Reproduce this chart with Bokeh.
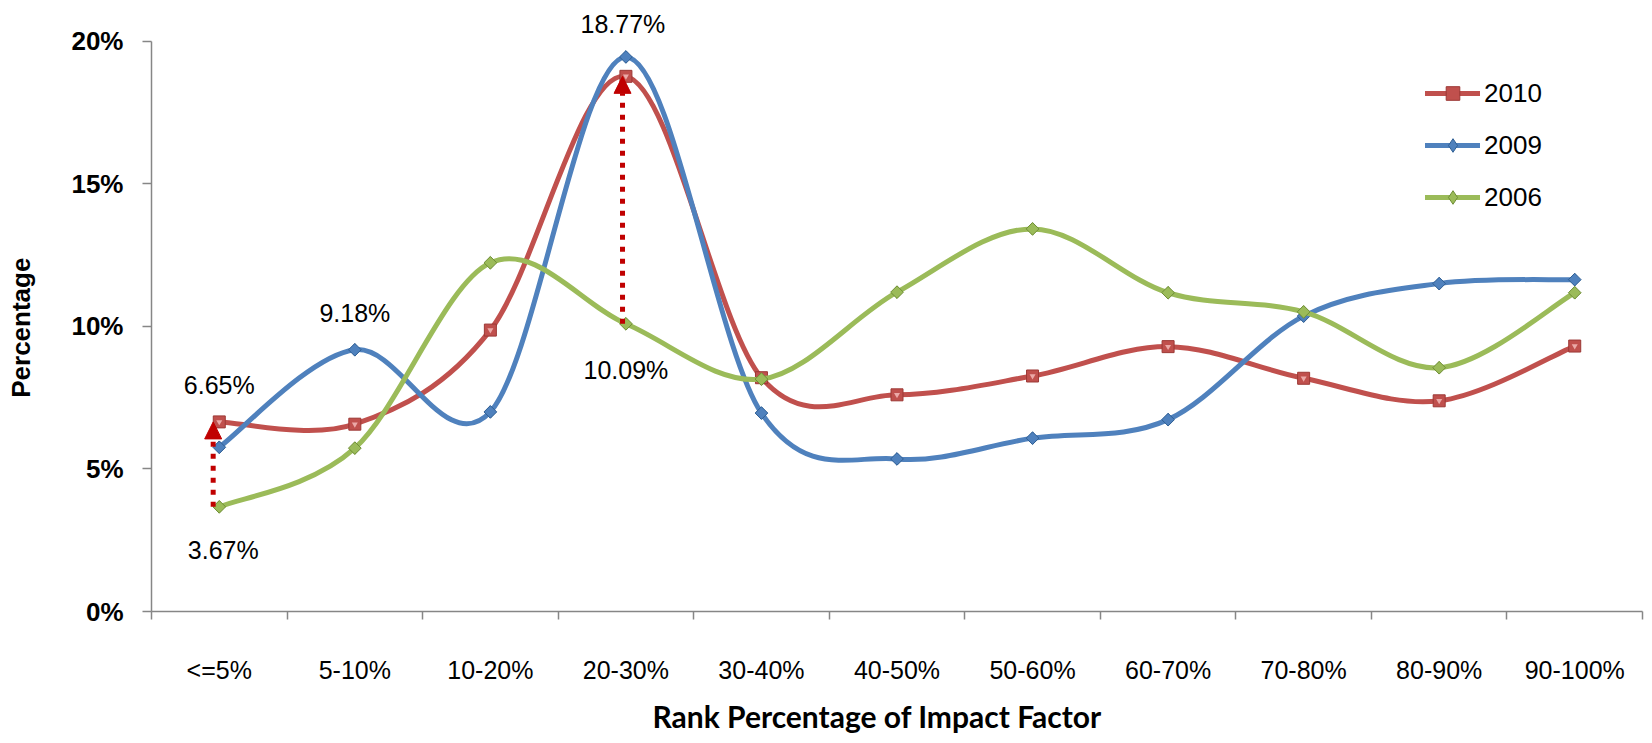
from math import pi

from bokeh.plotting import figure
from bokeh.models import (Range1d, FixedTicker, Label, Arrow, NormalHead,
                          Legend, LegendItem, Title)
from bokeh.embed import file_html
from bokeh.resources import INLINE

# Share of papers (%) per impact-factor rank band
categories = ["<=5%", "5-10%", "10-20%", "20-30%", "30-40%", "40-50%",
              "50-60%", "60-70%", "70-80%", "80-90%", "90-100%"]
share_2010 = [6.65, 6.57, 9.87, 18.77, 8.20, 7.60, 8.26, 9.29, 8.18, 7.39, 9.31]
share_2009 = [5.76, 9.18, 7.00, 19.45, 6.96, 5.35, 6.08, 6.73, 10.36, 11.50, 11.64]
share_2006 = [3.67, 5.73, 12.23, 10.09, 8.15, 11.20, 13.42, 11.18, 10.51, 8.55, 11.18]
y_ticks = [0, 5, 10, 15, 20]

RED, BLUE, GREEN = "#C0504D", "#4F81BD", "#9BBB59"
ARROW_RED = "#C00000"
AXIS_GREY = "#868686"

xs = [i + 0.5 for i in range(len(categories))]

# The frame reaches the top edge so labels above the 20% line stay visible;
# the y axis itself is bounded to 0-20%.
p = figure(width=1652, height=743, output_backend="svg", toolbar_location=None,
           x_range=Range1d(0, len(categories)), y_range=Range1d(0, 21.43),
           min_border_left=151, min_border_right=10, min_border_top=0,
           min_border_bottom=130)
p.outline_line_color = None
p.xgrid.visible = False
p.ygrid.visible = False
p.background_fill_color = "white"
p.border_fill_color = "white"

# x axis: labels centred on each band, tick marks on the band boundaries
xa = p.xaxis[0]
xa.ticker = FixedTicker(ticks=xs, minor_ticks=list(range(len(categories) + 1)))
xa.major_label_overrides = {x: c for x, c in zip(xs, categories)}
xa.major_tick_line_color = None
xa.major_tick_out = 0
xa.major_tick_in = 0
xa.minor_tick_out = 8
xa.minor_tick_in = 0
xa.minor_tick_line_color = AXIS_GREY
xa.minor_tick_line_width = 1.5
xa.axis_line_color = AXIS_GREY
xa.axis_line_width = 1.5
xa.major_label_standoff = 36
xa.major_label_text_font = "Liberation Sans"
xa.major_label_text_font_size = "25px"
xa.major_label_text_color = "black"

ya = p.yaxis[0]
ya.bounds = (0, 20)
ya.ticker = FixedTicker(ticks=y_ticks)
ya.major_label_overrides = {t: f"{t}%" for t in y_ticks}
ya.minor_tick_line_color = None
ya.major_tick_out = 9
ya.major_tick_in = 0
ya.major_tick_line_color = AXIS_GREY
ya.major_tick_line_width = 1.5
ya.axis_line_color = AXIS_GREY
ya.axis_line_width = 1.5
ya.major_label_standoff = 19
ya.major_label_text_font = "Liberation Sans"
ya.major_label_text_font_style = "bold"
ya.major_label_text_font_size = "26px"
ya.major_label_text_color = "black"
# trailing no-break spaces centre the title on the 0-20% span of the axis
ya.axis_label = "Percentage" + "\u00a0" * 6
ya.axis_label_text_font = "Liberation Sans"
ya.axis_label_text_font_style = "bold"
ya.axis_label_text_font_size = "26px"
ya.axis_label_text_color = "black"
ya.axis_label_standoff = 32

# x axis title
p.add_layout(Title(text="Rank Percentage of Impact Factor", align="left",
                   offset=501, standoff=19, text_font="Lato",
                   text_font_style="bold", text_font_size="30px",
                   text_color="black"), "below")


def smooth_segments(x, y):
    """Cubic Bezier pieces (Catmull-Rom tangents) through every data point."""
    n = len(x)
    seg = dict(x0=[], y0=[], x1=[], y1=[], cx0=[], cy0=[], cx1=[], cy1=[])
    for i in range(n - 1):
        a = max(i - 1, 0)
        b = min(i + 2, n - 1)
        seg["x0"].append(x[i]); seg["y0"].append(y[i])
        seg["x1"].append(x[i + 1]); seg["y1"].append(y[i + 1])
        seg["cx0"].append(x[i] + (x[i + 1] - x[a]) / 6)
        seg["cy0"].append(y[i] + (y[i + 1] - y[a]) / 6)
        seg["cx1"].append(x[i + 1] - (x[b] - x[i]) / 6)
        seg["cy1"].append(y[i + 1] - (y[b] - y[i]) / 6)
    return seg


series = [
    ("2010", share_2010, RED, "#9C3835"),
    ("2009", share_2009, BLUE, "#2F5F94"),
    ("2006", share_2006, GREEN, "#6F8E36"),
]

legend_items = []
for name, vals, color, edge in series:
    curve = p.bezier(line_color=color, line_width=5, line_cap="round",
                     **smooth_segments(xs, vals))
    if name == "2010":
        pts = p.scatter(xs, vals, marker="square", size=12, fill_color=color,
                        line_color=edge, line_width=1)
        p.scatter(xs, vals, marker="inverted_triangle", size=6,
                  fill_color="#EBA9A7", line_color=None)
        marks = [curve, pts]
    else:
        # diamond (used for the legend key) under a square turned 45 degrees
        key = p.scatter(xs, vals, marker="diamond", size=12, fill_color=color,
                        line_color=edge, line_width=1)
        p.scatter(xs, vals, marker="square", angle=pi / 4, size=9,
                  fill_color=color, line_color=edge, line_width=1)
        marks = [curve, key]
    legend_items.append(LegendItem(label=name, renderers=marks))

# Red dotted arrows: 2006 -> 2010 for the first and the peak band
for idx, dx in ((0, -0.045), (3, -0.025)):
    p.add_layout(Arrow(
        end=NormalHead(size=17, fill_color=ARROW_RED, line_color=ARROW_RED,
                       line_width=1),
        x_start=xs[idx] + dx, y_start=share_2006[idx],
        x_end=xs[idx] + dx, y_end=share_2010[idx],
        line_color=ARROW_RED, line_width=5, line_dash="5 7"))

# Value annotations
annotations = [
    (0, share_2010[0], 0, 37),
    (0, share_2006[0], 4, -43),
    (1, share_2009[1], 0, 37),
    (3, share_2010[3], -3, 52),
    (3, share_2006[3], 0, -46),
]
for idx, val, ox, oy in annotations:
    p.add_layout(Label(x=xs[idx], y=val, x_offset=ox, y_offset=oy,
                       text=f"{val:.2f}%", text_align="center",
                       text_baseline="middle", text_font="Liberation Sans",
                       text_font_size="25px", text_color="black"))

legend = Legend(items=legend_items, location=(1274, 397),
                glyph_width=55, glyph_height=34, label_height=34,
                label_standoff=4, spacing=18, padding=0, margin=0,
                border_line_color=None, background_fill_alpha=0,
                label_text_font="Liberation Sans", label_text_font_size="26px",
                label_text_color="black")
p.add_layout(legend, "center")

open("out.html", "w").write(file_html(p, INLINE))
